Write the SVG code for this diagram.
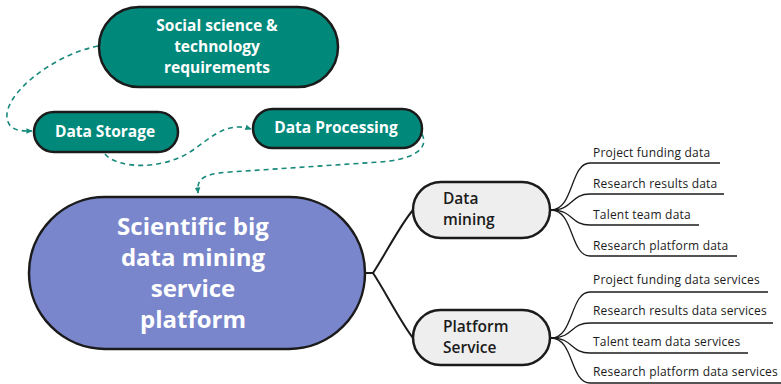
<svg xmlns="http://www.w3.org/2000/svg" width="781" height="384" viewBox="0 0 781 384">
  <defs>
    <marker id="arrow" viewBox="0 0 10 10" refX="8" refY="5" markerWidth="7" markerHeight="7" orient="auto" markerUnits="userSpaceOnUse">
      <path d="M0,1 L9,5 L0,9 Z" fill="#16897a"/>
    </marker>
    <style>
      .teal { fill: #00897b; stroke: #1b1b1b; stroke-width: 2.5; }
      .main { fill: #7986cb; stroke: #1b1b1b; stroke-width: 2.5; }
      .grey { fill: #eeeeee; stroke: #1b1b1b; stroke-width: 2.5; }
      .wt { fill: #ffffff; font-family: "Open Sans", "Liberation Sans", sans-serif; font-weight: 700; text-anchor: middle; }
      .dk { fill: #1b1b1b; font-family: "Open Sans", "Liberation Sans", sans-serif; font-weight: 600; font-size: 15.5px; }
      .leaf { fill: #1b1b1b; font-family: "Open Sans", "Liberation Sans", sans-serif; font-size: 12px; letter-spacing: 0.2px; }
      .dash { fill: none; stroke: #16897a; stroke-width: 1.6; stroke-dasharray: 5 4; marker-end: url(#arrow); }
      .tree { fill: none; stroke: #1b1b1b; stroke-width: 2; }
      .thin { fill: none; stroke: #1b1b1b; stroke-width: 1.3; }
    </style>
  </defs>

  <!-- connectors -->
  <g id="connectors">
    <path class="dash" d="M98,46 C50,56 4,95 7,118 C9,131 20,131 32,131"/>
    <path class="dash" d="M105,154 C116,168 160,171 190,152 C210,139 225,121 251,129"/>
    <path class="dash" d="M422,134 C430,150 410,160 380,162 L230,172 C200,174 197,180 198,193"/>

    <path class="tree" d="M365,273 H373 C385,255 400,225 413,210"/>
    <path class="tree" d="M373,273 C385,291 400,321 413,338"/>

    <path class="thin" d="M551,210 C574,210 570,163 590,163 H720"/>
    <path class="thin" d="M551,210 C574,210 570,194 590,194 H724"/>
    <path class="thin" d="M551,210 C574,210 570,225 590,225 H699"/>
    <path class="thin" d="M551,210 C574,210 570,256 590,256 H737"/>

    <path class="thin" d="M551,338 C574,338 570,292 590,292 H768"/>
    <path class="thin" d="M551,338 C574,338 570,323 590,323 H773"/>
    <path class="thin" d="M551,338 C574,338 570,353 590,353 H748"/>
    <path class="thin" d="M551,338 C574,338 570,383 590,383 H781"/>
  </g>

  <g id="requirements">
    <rect class="teal" x="99" y="7" width="239" height="80" rx="40"/>
    <text class="wt" font-size="15.5" x="217" y="31">Social science &amp;</text>
    <text class="wt" font-size="15.5" x="217" y="52">technology</text>
    <text class="wt" font-size="15.5" x="217" y="73">requirements</text>
  </g>

  <g id="storage">
    <rect class="teal" x="34" y="112" width="144" height="40" rx="20"/>
    <text class="wt" font-size="15.5" x="105" y="137">Data Storage</text>
  </g>

  <g id="processing">
    <rect class="teal" x="253" y="109" width="169" height="39" rx="19.5"/>
    <text class="wt" font-size="15.5" x="336" y="133">Data Processing</text>
  </g>

  <g id="platform">
    <rect class="main" x="29" y="197" width="336" height="152" rx="76"/>
    <text class="wt" font-size="24" x="193" y="235">Scientific big</text>
    <text class="wt" font-size="24" x="193" y="266">data mining</text>
    <text class="wt" font-size="24" x="193" y="297">service</text>
    <text class="wt" font-size="24" x="193" y="328">platform</text>
  </g>

  <g id="mining">
    <rect class="grey" x="413" y="182" width="137" height="56" rx="28"/>
    <text class="dk" x="443" y="204">Data</text>
    <text class="dk" x="443" y="225">mining</text>
  </g>

  <g id="service">
    <rect class="grey" x="413" y="310" width="137" height="55" rx="27.5"/>
    <text class="dk" x="443" y="332">Platform</text>
    <text class="dk" x="443" y="353">Service</text>
  </g>

  <g id="mining-items">
    <text class="leaf" x="593" y="157">Project funding data</text>
    <text class="leaf" x="593" y="188">Research results data</text>
    <text class="leaf" x="593" y="219">Talent team data</text>
    <text class="leaf" x="593" y="250">Research platform data</text>
  </g>

  <g id="service-items">
    <text class="leaf" x="593" y="284">Project funding data services</text>
    <text class="leaf" x="593" y="315">Research results data services</text>
    <text class="leaf" x="593" y="346">Talent team data services</text>
    <text class="leaf" x="593" y="376">Research platform data services</text>
  </g>
</svg>
